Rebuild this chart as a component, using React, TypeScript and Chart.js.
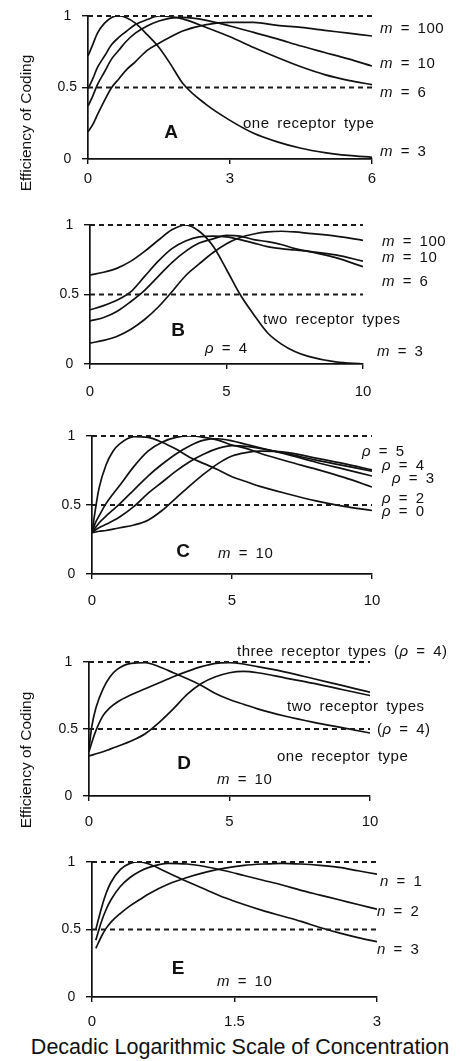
import React, { useEffect, useRef } from "react";
import { Chart, registerables } from "chart.js";
Chart.register(...registerables);

const FONT = '"Liberation Sans", Arial, Helvetica, sans-serif';
const W = 460;

// shared axis values
const yTicks = [0, 0.5, 1];
const refLevels = [0.5, 1];

// Panel A : one receptor type
const aXTicks = [0, 3, 6];
const aX = [0, 0.1, 0.2, 0.35, 0.5, 0.65, 0.8, 1, 1.25, 1.5, 1.75, 2, 2.5, 3, 3.5, 4, 4.5, 5, 5.5, 6];
const aM3 = [0.72, 0.8, 0.88, 0.95, 0.99, 1.0, 0.99, 0.95, 0.87, 0.78, 0.66, 0.53, 0.38, 0.27, 0.18, 0.12, 0.075, 0.045, 0.025, 0.012];
const aM6 = [0.49, 0.56, 0.64, 0.72, 0.8, 0.85, 0.89, 0.94, 0.975, 1.0, 0.995, 0.98, 0.92, 0.855, 0.78, 0.71, 0.645, 0.59, 0.55, 0.52];
const aM10 = [0.37, 0.44, 0.52, 0.61, 0.7, 0.76, 0.82, 0.88, 0.93, 0.965, 0.985, 0.99, 0.97, 0.93, 0.885, 0.84, 0.79, 0.745, 0.7, 0.65];
const aM100 = [0.19, 0.24, 0.31, 0.41, 0.5, 0.56, 0.62, 0.68, 0.76, 0.81, 0.855, 0.895, 0.94, 0.955, 0.955, 0.935, 0.92, 0.9, 0.88, 0.86];

// Panel B : two receptor types, rho = 4
const bXTicks = [0, 5, 10];
const bX = [0, 0.5, 1, 1.5, 2, 2.5, 3, 3.5, 4, 4.5, 5, 5.5, 6, 6.5, 7, 7.5, 8, 9, 10];
const bM3 = [0.64, 0.66, 0.69, 0.74, 0.81, 0.89, 0.965, 1.0, 0.955, 0.85, 0.68, 0.5, 0.355, 0.225, 0.145, 0.09, 0.055, 0.015, 0.0];
const bM6 = [0.39, 0.42, 0.46, 0.52, 0.63, 0.74, 0.83, 0.885, 0.915, 0.92, 0.915, 0.895, 0.87, 0.845, 0.83, 0.82, 0.81, 0.785, 0.74];
const bM10 = [0.31, 0.335, 0.38, 0.45, 0.53, 0.63, 0.73, 0.81, 0.87, 0.9, 0.925, 0.92, 0.895, 0.88, 0.86, 0.83, 0.81, 0.765, 0.7];
const bM100 = [0.15, 0.17, 0.2, 0.25, 0.32, 0.41, 0.52, 0.635, 0.72, 0.8, 0.865, 0.91, 0.935, 0.95, 0.955, 0.95, 0.94, 0.92, 0.89];

// Panel C : m = 10, different rho
const cXTicks = [0, 5, 10];
const cX = [0, 0.1, 0.25, 0.5, 0.75, 1, 1.5, 2, 2.5, 3, 3.5, 4, 4.5, 5, 5.5, 6, 7, 8, 9, 10];
const cR0 = [0.3, 0.44, 0.62, 0.79, 0.89, 0.945, 0.995, 0.99, 0.955, 0.905, 0.845, 0.8, 0.755, 0.705, 0.67, 0.635, 0.58, 0.53, 0.49, 0.46];
const cR2 = [0.3, 0.36, 0.42, 0.51, 0.58, 0.645, 0.78, 0.89, 0.955, 0.99, 1.0, 0.99, 0.97, 0.935, 0.91, 0.875, 0.815, 0.76, 0.7, 0.63];
const cR3 = [0.3, 0.33, 0.37, 0.42, 0.465, 0.51, 0.61, 0.71, 0.795, 0.87, 0.93, 0.97, 0.98, 0.965, 0.94, 0.915, 0.865, 0.81, 0.76, 0.71];
const cR4 = [0.3, 0.315, 0.335, 0.36, 0.385, 0.415, 0.49, 0.585, 0.665, 0.745, 0.815, 0.87, 0.91, 0.93, 0.925, 0.91, 0.87, 0.825, 0.785, 0.745];
const cR5 = [0.3, 0.303, 0.31, 0.315, 0.325, 0.335, 0.355, 0.39, 0.46, 0.55, 0.64, 0.725, 0.8, 0.855, 0.88, 0.89, 0.88, 0.84, 0.8, 0.755];

// Panel D : one / two / three receptor types, m = 10
const dXTicks = [0, 5, 10];
const dX = [0, 0.1, 0.25, 0.5, 0.75, 1, 1.5, 2, 2.5, 3, 3.5, 4, 4.5, 5, 5.5, 6, 7, 8, 9, 10];
const dOne = [0.35, 0.52, 0.66, 0.8, 0.89, 0.945, 0.99, 0.995, 0.965, 0.92, 0.875, 0.825, 0.765, 0.72, 0.685, 0.65, 0.595, 0.55, 0.51, 0.47];
const dTwo = [0.3, 0.305, 0.315, 0.33, 0.35, 0.37, 0.41, 0.465, 0.55, 0.65, 0.76, 0.84, 0.89, 0.92, 0.93, 0.92, 0.88, 0.84, 0.795, 0.75];
const dThree = [0.33, 0.4, 0.49, 0.6, 0.66, 0.7, 0.755, 0.8, 0.845, 0.89, 0.93, 0.965, 0.99, 0.995, 0.985, 0.965, 0.925, 0.875, 0.825, 0.775];

// Panel E : m = 10, n = 1..3
const eXTicks = [0, 1.5, 3];
const eX = [0.04, 0.1, 0.15, 0.2, 0.3, 0.4, 0.5, 0.6, 0.8, 1.0, 1.2, 1.4, 1.6, 1.8, 2.0, 2.2, 2.4, 2.6, 2.8, 3.0];
const eN3 = [0.5, 0.66, 0.77, 0.85, 0.945, 0.99, 1.0, 0.985, 0.92, 0.855, 0.795, 0.735, 0.685, 0.64, 0.6, 0.56, 0.515, 0.475, 0.44, 0.41];
const eN2 = [0.42, 0.56, 0.65, 0.72, 0.82, 0.885, 0.93, 0.96, 0.99, 0.985, 0.965, 0.935, 0.9, 0.865, 0.83, 0.79, 0.755, 0.72, 0.685, 0.65];
const eN1 = [0.36, 0.45, 0.51, 0.555, 0.62, 0.675, 0.72, 0.765, 0.835, 0.885, 0.925, 0.955, 0.975, 0.985, 0.99, 0.985, 0.975, 0.96, 0.935, 0.91];

type PanelProps = {
  top: number;
  height: number;
  left: number;
  right: number;
  plotTop: number;
  plotBottom: number;
  xs: number[];
  series: number[][];
  xMax: number;
  xTicks: number[];
  xPad: number;
};

function Panel(p: PanelProps) {
  const ref = useRef<HTMLCanvasElement>(null);
  useEffect(() => {
    const canvas = ref.current;
    if (!canvas) return;
    const refSets = refLevels.map((v) => ({
      data: [
        { x: 0, y: v },
        { x: p.xMax, y: v },
      ],
      borderColor: "#1a1a1a",
      borderWidth: 1.8,
      borderDash: [5, 4],
      pointRadius: 0,
      tension: 0,
      clip: false,
    }));
    const curveSets = p.series.map((s) => ({
      data: p.xs.map((x, i) => ({ x, y: s[i] })),
      borderColor: "#111",
      borderWidth: 1.7,
      pointRadius: 0,
      cubicInterpolationMode: "monotone" as const,
    }));
    const chart = new Chart(canvas, {
      type: "line",
      data: { datasets: [...refSets, ...curveSets] as any },
      options: {
        animation: false,
        responsive: false,
        maintainAspectRatio: false,
        layout: {
          padding: { left: 0, right: W - p.right, top: p.plotTop - p.top, bottom: 0 },
        },
        plugins: { legend: { display: false }, tooltip: { enabled: false } },
        scales: {
          x: {
            type: "linear",
            min: 0,
            max: p.xMax,
            afterBuildTicks: (s: any) => {
              s.ticks = p.xTicks.map((v) => ({ value: v }));
            },
            afterFit: (s: any) => {
              s.height = p.height - (p.plotBottom - p.top);
            },
            ticks: {
              font: { family: FONT, size: 15 },
              color: "#111",
              padding: p.xPad,
              maxRotation: 0,
              autoSkip: false,
              callback: (v: any) => String(v),
            },
            grid: { drawOnChartArea: false, tickLength: 5, color: "#111", lineWidth: 1.4 },
            border: { color: "#111", width: 1.7 },
          },
          y: {
            type: "linear",
            min: 0,
            max: 1,
            afterBuildTicks: (s: any) => {
              s.ticks = yTicks.map((v) => ({ value: v }));
            },
            afterFit: (s: any) => {
              s.width = p.left;
            },
            ticks: {
              font: { family: FONT, size: 14 },
              color: "#111",
              padding: 5,
              crossAlign: "center",
              callback: (v: any) => String(v),
            },
            grid: { drawOnChartArea: false, tickLength: 6, color: "#111", lineWidth: 1.4 },
            border: { color: "#111", width: 1.7 },
          },
        },
      } as any,
    });
    return () => chart.destroy();
  }, []);
  return (
    <canvas
      ref={ref}
      width={W}
      height={p.height}
      style={{ position: "absolute", left: 0, top: p.top, width: W, height: p.height }}
    />
  );
}

type Lbl = { x: number; y: number; c: React.ReactNode; center?: boolean; bold?: boolean; size?: number };

function Txt({ x, y, c, center, bold, size }: Lbl) {
  return (
    <div
      style={{
        position: "absolute",
        left: x,
        top: y,
        transform: center ? "translate(-50%, -50%)" : "translateY(-50%)",
        fontFamily: FONT,
        fontSize: size ?? 15,
        fontWeight: bold ? 700 : 400,
        letterSpacing: bold ? 0 : "0.5px",
        wordSpacing: "3px",
        whiteSpace: "pre",
        lineHeight: 1,
        color: "#111",
      }}
    >
      {c}
    </div>
  );
}

const m = <i>m</i>;
const r = <i>ρ</i>;
const n = <i>n</i>;

const labels: Lbl[] = [
  // A
  { x: 380, y: 27, c: <>{m} = 100</> },
  { x: 380, y: 62, c: <>{m} = 10</> },
  { x: 380, y: 91, c: <>{m} = 6</> },
  { x: 243, y: 122, c: "one receptor type" },
  { x: 380, y: 150, c: <>{m} = 3</> },
  { x: 171, y: 131, c: "A", center: true, bold: true, size: 19 },
  // B
  { x: 382, y: 240, c: <>{m} = 100</> },
  { x: 382, y: 256, c: <>{m} = 10</> },
  { x: 382, y: 280, c: <>{m} = 6</> },
  { x: 263, y: 318, c: "two receptor types" },
  { x: 178, y: 329, c: "B", center: true, bold: true, size: 19 },
  { x: 205, y: 347, c: <>{r} = 4</> },
  { x: 377, y: 350, c: <>{m} = 3</> },
  // C
  { x: 362, y: 450, c: <>{r} = 5</> },
  { x: 382, y: 464, c: <>{r} = 4</> },
  { x: 392, y: 477, c: <>{r} = 3</> },
  { x: 382, y: 497, c: <>{r} = 2</> },
  { x: 382, y: 510, c: <>{r} = 0</> },
  { x: 183, y: 550, c: "C", center: true, bold: true, size: 19 },
  { x: 218, y: 552, c: <>{m} = 10</> },
  // D
  { x: 237, y: 650, c: <>three receptor types ({r} = 4)</> },
  { x: 287, y: 705, c: "two receptor types" },
  { x: 377, y: 728, c: <>({r} = 4)</> },
  { x: 277, y: 755, c: "one receptor type" },
  { x: 184, y: 762, c: "D", center: true, bold: true, size: 19 },
  { x: 217, y: 778, c: <>{m} = 10</> },
  // E
  { x: 380, y: 880, c: <>{n} = 1</> },
  { x: 377, y: 910, c: <>{n} = 2</> },
  { x: 377, y: 948, c: <>{n} = 3</> },
  { x: 178, y: 967, c: "E", center: true, bold: true, size: 19 },
  { x: 217, y: 980, c: <>{m} = 10</> },
];

function VTitle({ x, y, text }: { x: number; y: number; text: string }) {
  return (
    <div
      style={{
        position: "absolute",
        left: x,
        top: y,
        transform: "translate(-50%, -50%) rotate(-90deg)",
        fontFamily: FONT,
        fontSize: 15.5,
        whiteSpace: "nowrap",
        lineHeight: 1,
        color: "#111",
      }}
    >
      {text}
    </div>
  );
}

export default function App() {
  return (
    <div
      style={{
        position: "absolute",
        left: 0,
        top: 0,
        width: W,
        height: 1061,
        background: "#fff",
        overflow: "hidden",
      }}
    >
      <Panel top={0} height={200} left={88} right={372} plotTop={16} plotBottom={159}
        xs={aX} series={[aM3, aM6, aM10, aM100]} xMax={6} xTicks={aXTicks} xPad={6} />
      <Panel top={200} height={210} left={90} right={363} plotTop={225} plotBottom={364}
        xs={bX} series={[bM3, bM6, bM10, bM100]} xMax={10} xTicks={bXTicks} xPad={14} />
      <Panel top={410} height={205} left={92} right={372} plotTop={436} plotBottom={574}
        xs={cX} series={[cR0, cR2, cR3, cR4, cR5]} xMax={10} xTicks={cXTicks} xPad={13} />
      <Panel top={615} height={215} left={89} right={370} plotTop={662} plotBottom={796}
        xs={dX} series={[dOne, dTwo, dThree]} xMax={10} xTicks={dXTicks} xPad={12} />
      <Panel top={830} height={200} left={92} right={377} plotTop={862} plotBottom={997}
        xs={eX} series={[eN1, eN2, eN3]} xMax={3} xTicks={eXTicks} xPad={11} />
      {labels.map((l, i) => (
        <Txt key={i} {...l} />
      ))}
      <VTitle x={26} y={123} text="Efficiency of Coding" />
      <VTitle x={26} y={760} text="Efficiency of Coding" />
      <div
        style={{
          position: "absolute",
          left: 240,
          top: 1048,
          transform: "translate(-50%, -50%)",
          fontFamily: FONT,
          fontSize: 21.5,
          whiteSpace: "nowrap",
          lineHeight: 1,
          color: "#111",
        }}
      >
        Decadic Logarithmic Scale of Concentration
      </div>
    </div>
  );
}
